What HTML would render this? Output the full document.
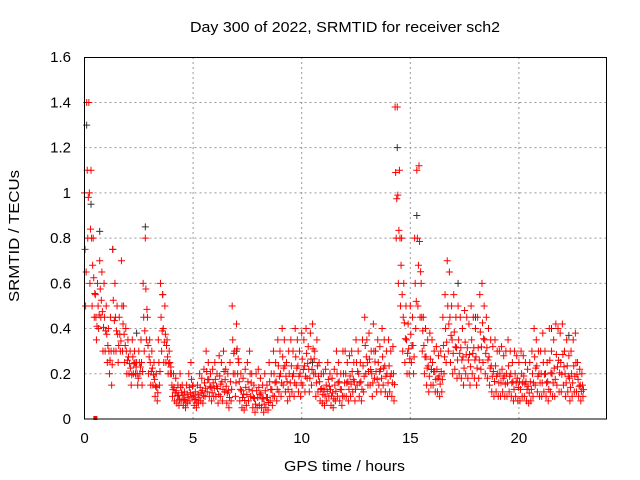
<!DOCTYPE html>
<html><head><meta charset="utf-8"><style>
body{margin:0;background:#fff;}
svg{display:block;font-family:"Liberation Sans",sans-serif;}
</style></head><body>
<svg id="chart" width="640" height="480">
<text x="190" y="32" textLength="310" lengthAdjust="spacingAndGlyphs" font-size="15">Day 300 of 2022, SRMTID for receiver sch2</text>
<text x="284" y="471" textLength="121" lengthAdjust="spacingAndGlyphs" font-size="15">GPS time / hours</text>
<text transform="translate(19,302) rotate(-90)" textLength="132" lengthAdjust="spacingAndGlyphs" font-size="15">SRMTID / TECUs</text>
<g id="grid"></g><g id="ticks"></g><g id="marks"></g>
<rect x="84.5" y="57.5" width="522" height="361.5" fill="none" stroke="#000" stroke-width="1"/>
</svg>
<script>
const xTicks=[0,5,10,15,20];
const yTicks=[0,0.2,0.4,0.6,0.8,1,1.2,1.4,1.6];
const yTickLabels=["0","0.2","0.4","0.6","0.8","1","1.2","1.4","1.6"];
const tStart=0, tStep=0.1;
const hiVals=[1.0,1.4,1.4,1.1,0.8,0.55,0.6,0.7,0.65,0.6,
0.5,0.4,0.45,0.75,0.6,0.5,0.45,0.7,0.5,0.4,
0.35,0.3,0.35,0.3,0.25,0.3,0.35,0.6,0.8,0.45,
0.35,0.3,0.25,0.2,0.35,0.6,0.55,0.5,0.35,0.3,
0.2,0.2,0.18,0.15,0.2,0.15,0.12,0.15,0.2,0.25,
0.15,0.12,0.15,0.2,0.18,0.22,0.3,0.25,0.2,0.22,
0.25,0.2,0.28,0.25,0.3,0.22,0.2,0.25,0.5,0.3,
0.42,0.25,0.2,0.18,0.22,0.25,0.3,0.2,0.15,0.2,
0.22,0.18,0.15,0.2,0.15,0.25,0.2,0.3,0.25,0.35,
0.3,0.4,0.35,0.25,0.3,0.35,0.3,0.4,0.35,0.3,
0.38,0.35,0.4,0.32,0.38,0.42,0.3,0.35,0.25,0.2,
0.2,0.22,0.25,0.2,0.18,0.22,0.3,0.25,0.2,0.3,
0.3,0.25,0.28,0.3,0.25,0.35,0.3,0.25,0.35,0.45,
0.35,0.38,0.3,0.42,0.3,0.35,0.32,0.4,0.35,0.3,
0.35,0.3,0.32,1.38,1.38,1.1,0.8,0.6,0.5,0.42,
0.5,0.45,0.8,1.1,1.12,0.6,0.45,0.4,0.35,0.38,
0.35,0.3,0.32,0.28,0.3,0.45,0.55,0.7,0.65,0.5,
0.55,0.45,0.5,0.45,0.4,0.48,0.45,0.42,0.5,0.45,
0.4,0.45,0.55,0.6,0.5,0.45,0.4,0.35,0.32,0.35,
0.3,0.3,0.32,0.28,0.3,0.35,0.3,0.25,0.3,0.28,
0.25,0.3,0.28,0.25,0.22,0.25,0.3,0.4,0.35,0.3,
0.3,0.38,0.3,0.25,0.4,0.3,0.35,0.42,0.4,0.38,
0.42,0.3,0.35,0.28,0.3,0.35,0.38,0.25,0.22,0.2];
const loVals=[0.5,0.8,0.6,0.5,0.45,0.35,0.4,0.45,0.3,0.3,
0.25,0.2,0.15,0.3,0.3,0.25,0.3,0.3,0.25,0.2,
0.2,0.15,0.2,0.2,0.15,0.2,0.15,0.3,0.35,0.2,
0.15,0.15,0.1,0.08,0.15,0.3,0.25,0.25,0.2,0.2,
0.1,0.08,0.07,0.06,0.08,0.06,0.05,0.07,0.08,0.1,
0.06,0.05,0.07,0.08,0.07,0.1,0.12,0.1,0.08,0.1,
0.1,0.07,0.1,0.08,0.12,0.07,0.05,0.08,0.2,0.1,
0.2,0.08,0.05,0.04,0.06,0.08,0.1,0.05,0.03,0.05,
0.06,0.05,0.03,0.05,0.04,0.08,0.06,0.1,0.08,0.12,
0.1,0.15,0.12,0.08,0.1,0.12,0.1,0.15,0.12,0.1,
0.15,0.12,0.18,0.12,0.15,0.2,0.1,0.12,0.08,0.07,
0.06,0.08,0.1,0.06,0.05,0.08,0.1,0.08,0.06,0.1,
0.1,0.08,0.1,0.12,0.08,0.15,0.1,0.08,0.12,0.2,
0.15,0.15,0.1,0.18,0.12,0.15,0.12,0.15,0.12,0.1,
0.12,0.1,0.08,0.8,0.6,0.5,0.3,0.25,0.2,0.2,
0.25,0.2,0.4,0.5,0.45,0.3,0.2,0.15,0.12,0.15,
0.15,0.12,0.12,0.1,0.12,0.2,0.25,0.3,0.25,0.2,
0.22,0.18,0.2,0.18,0.15,0.2,0.18,0.15,0.2,0.18,
0.15,0.18,0.22,0.25,0.2,0.18,0.15,0.12,0.1,0.12,
0.1,0.1,0.12,0.1,0.1,0.12,0.1,0.08,0.1,0.08,
0.08,0.1,0.1,0.08,0.07,0.08,0.1,0.15,0.12,0.1,
0.1,0.12,0.1,0.08,0.12,0.1,0.1,0.15,0.12,0.12,
0.15,0.1,0.12,0.08,0.1,0.12,0.12,0.1,0.08,0.1];
const blackT=[0.1,0.3,0.7,1.3,2.4,2.8,3.6,7.0,10.5,14.4,15.3,17.2,18.0,21.5,22.3];
const blackV=[1.3,0.95,0.83,0.75,0.38,0.85,0.55,0.3,0.25,1.2,0.9,0.6,0.45,0.4,0.37];
const X=t=>84.5+t*21.72;
const Y=v=>419-v*226.1;
const NS="http://www.w3.org/2000/svg";
const grid=document.getElementById('grid'),ticks=document.getElementById('ticks'),marks=document.getElementById('marks');
function mk(tag,attrs,parent){const e=document.createElementNS(NS,tag);for(const k in attrs)e.setAttribute(k,attrs[k]);parent.appendChild(e);return e;}
xTicks.forEach(t=>{
  if(t>0){const g=mk('line',{x1:X(t),x2:X(t),y1:57,y2:419,stroke:'#999','stroke-dasharray':'2,3'},grid);
  
  }
  const l=mk('text',{x:X(t),y:443,'text-anchor':'middle','font-size':15},ticks);l.textContent=t;
  
  
});
yTicks.forEach((v,i)=>{
  if(v>0&&v<1.6){const g=mk('line',{x1:84.5,x2:606.5,y1:Y(v),y2:Y(v),stroke:'#999','stroke-dasharray':'2,3'},grid);
  
  }
  const l=mk('text',{x:71,y:Y(v)+5,'text-anchor':'end','font-size':15},ticks);l.textContent=yTickLabels[i];
  
  
});
function cross(t,v,col){
  const x=X(t),y=Y(v);
  const p=mk('path',{d:`M${x-3.5} ${y}h7M${x} ${y-3.5}v7`,stroke:col,'stroke-width':1,fill:'none'},marks);
  
  
}
blackT.forEach((t,i)=>cross(t,blackV[i],'#333'));
hiVals.forEach((v,i)=>{
  const t=tStart+i*tStep;
  cross(t,v,'#f00');
  cross(t+0.05,loVals[i],'#f00');
  cross(t+0.025,(v+loVals[i])/2,'#f00');
  cross(t+0.075,(v*0.3+loVals[i]*0.7),'#f00');
});
const sq=mk('rect',{x:X(0.5)-2,y:Y(0)-3,width:4,height:4,fill:'#f00'},marks);


</script>
</body></html>
